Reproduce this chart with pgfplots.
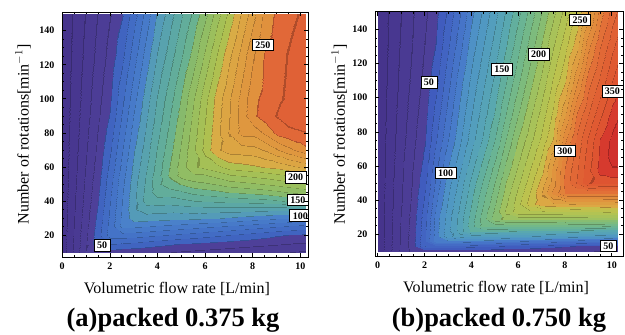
\documentclass[border=0pt]{standalone}
\usepackage{fontspec}
\setmainfont{Liberation Serif}
\usepackage{pgfplots}
\pgfplotsset{compat=1.18}
\pgfplotsset{
  myax/.style={
    scale only axis, axis on top,
    xtick={0,2,4,6,8,10}, ytick={20,40,60,80,100,120,140},
    minor x tick num=3, minor y tick num=3,
    major tick length=4pt, minor tick length=2.2pt,
    tick style={black, line width=0.6pt},
    axis line style={black, line width=0.8pt},
    tick label style={font=\fontsize{10}{12}\selectfont\bfseries},
    /pgf/number format/assume math mode=true,
    xticklabel style={yshift=-2pt},
    yticklabel style={xshift=-4pt},
    label style={font=\fontsize{16}{19}\selectfont},
  },
}
\tikzset{lbl/.style={draw=black, fill=white, line width=0.8pt, inner xsep=3pt, inner ysep=2.5pt, font=\fontsize{10}{12}\selectfont\bfseries}}
\begin{document}
\begin{tikzpicture}
\useasboundingbox (0pt,0pt) rectangle (625pt,335pt);
% ---------------- panel (a)
\begin{axis}[myax, at={(62pt,78pt)}, anchor=south west, width=246pt, height=245pt,
  xmin=-0.01, xmax=10.32, ymin=7.08, ymax=150.98,
  point meta min=0, point meta max=280,
  xlabel={Volumetric flow rate [L/min]},
  ylabel={Number of rotations[min$^{-1}$]},
  every axis x label/.style={at={(axis description cs:0.467,-0.148)}, anchor=base, font=\fontsize{16}{19}\selectfont},
  every axis y label/.style={at={(axis description cs:-0.136,0.5)}, rotate=90, anchor=base, font=\fontsize{16}{19}\selectfont},
  colormap={cmA}{rgb255(0)=(70,52,140)
  rgb255(9.55)=(56,43,112) rgb255(10.45)=(72,55,144)
  rgb255(19.55)=(58,45,115) rgb255(20.45)=(74,58,147)
  rgb255(29.55)=(59,48,117) rgb255(30.45)=(76,61,150)
  rgb255(39.55)=(61,50,119) rgb255(40.45)=(78,64,153)
  rgb255(49.55)=(50,78,150) rgb255(50.45)=(64,100,192)
  rgb255(59.55)=(51,84,153) rgb255(60.45)=(66,108,196)
  rgb255(69.55)=(53,90,155) rgb255(70.45)=(68,115,199)
  rgb255(79.55)=(55,95,157) rgb255(80.45)=(71,122,201)
  rgb255(89.55)=(58,101,158) rgb255(90.45)=(74,129,202)
  rgb255(99.55)=(66,121,144) rgb255(100.45)=(84,155,184)
  rgb255(109.55)=(69,126,136) rgb255(110.45)=(88,162,174)
  rgb255(119.55)=(72,131,129) rgb255(120.45)=(92,168,165)
  rgb255(129.55)=(76,135,121) rgb255(130.45)=(98,173,155)
  rgb255(139.55)=(82,139,113) rgb255(140.45)=(105,178,145)
  rgb255(149.55)=(105,145,84) rgb255(150.45)=(135,186,108)
  rgb255(159.55)=(113,147,78) rgb255(160.45)=(145,189,100)
  rgb255(169.55)=(121,149,73) rgb255(170.45)=(155,191,93)
  rgb255(179.55)=(129,150,67) rgb255(180.45)=(165,192,86)
  rgb255(189.55)=(137,150,62) rgb255(190.45)=(175,192,80)
  rgb255(199.55)=(169,134,55) rgb255(200.45)=(217,172,70)
  rgb255(209.55)=(172,129,52) rgb255(210.45)=(220,165,67)
  rgb255(219.55)=(173,123,51) rgb255(220.45)=(222,158,65)
  rgb255(229.55)=(174,118,49) rgb255(230.45)=(223,151,63)
  rgb255(239.55)=(175,113,48) rgb255(240.45)=(224,145,61)
  rgb255(249.55)=(176,81,44) rgb255(250.45)=(225,104,56)
  rgb255(259.55)=(175,76,42) rgb255(260.45)=(224,97,54)
  rgb255(269.55)=(174,70,41) rgb255(270.45)=(223,90,52)
  rgb255(280)=(223,90,52)},
]
\addplot[surf, shader=interp, colormap access=piecewise constant, mesh/cols=22, point meta=explicit]
table[row sep=\\, meta=z]{x y z\\
0 10 3.7\\ 0.5 10 22.2\\ 1 10 40.7\\ 1.5 10 45\\ 2 10 45\\ 2.5 10 44\\ 3 10 43\\ 3.5 10 42\\ 4 10 41\\ 4.5 10 40.6\\ 5 10 39\\ 5.5 10 38\\ 6 10 37\\ 6.5 10 36\\ 7 10 35\\ 7.5 10 34\\ 8 10 33\\ 8.5 10 32\\ 9 10 31\\ 9.5 10 30.6\\ 10 10 29\\ 10.2 10 29\\
0 15 3.6\\ 0.5 15 21.5\\ 1 15 39.5\\ 1.5 15 57.7\\ 2 15 60.6\\ 2.5 15 58.6\\ 3 15 57.1\\ 3.5 15 55\\ 4 15 52.9\\ 4.5 15 51.1\\ 5 15 49.4\\ 5.5 15 48.3\\ 6 15 47.2\\ 6.5 15 46.1\\ 7 15 45\\ 7.5 15 44\\ 8 15 42.9\\ 8.5 15 41.9\\ 9 15 40.8\\ 9.5 15 39.8\\ 10 15 38.7\\ 10.2 15 38.5\\
0 20 3.5\\ 0.5 20 20.9\\ 1 20 38.3\\ 1.5 20 56.2\\ 2 20 75.2\\ 2.5 20 75.9\\ 3 20 74.8\\ 3.5 20 73\\ 4 20 71.2\\ 4.5 20 69.5\\ 5 20 67.5\\ 5.5 20 65.8\\ 6 20 63.7\\ 6.5 20 61.9\\ 7 20 59.8\\ 7.5 20 57.9\\ 8 20 55.6\\ 8.5 20 53.6\\ 9 20 51.2\\ 9.5 20 49.6\\ 10 20 48.4\\ 10.2 20 48.1\\
0 25 3.4\\ 0.5 25 20.3\\ 1 25 37.1\\ 1.5 25 54.6\\ 2 25 73.9\\ 2.5 25 93.1\\ 3 25 92.6\\ 3.5 25 91\\ 4 25 89.4\\ 4.5 25 87.9\\ 5 25 86.2\\ 5.5 25 84.6\\ 6 25 82.8\\ 6.5 25 81.2\\ 7 25 79.3\\ 7.5 25 77.6\\ 8 25 75.4\\ 8.5 25 73.6\\ 9 25 71.5\\ 9.5 25 69.7\\ 10 25 67.5\\ 10.2 25 66.7\\
0 30 3.3\\ 0.5 30 19.7\\ 1 30 36.1\\ 1.5 30 52.9\\ 2 30 72.5\\ 2.5 30 92.2\\ 3 30 105.8\\ 3.5 30 105.1\\ 4 30 104.4\\ 4.5 30 103.6\\ 5 30 103.1\\ 5.5 30 102.4\\ 6 30 101.5\\ 6.5 30 100.8\\ 7 30 98.8\\ 7.5 30 97.2\\ 8 30 95.2\\ 8.5 30 93.6\\ 9 30 91.9\\ 9.5 30 90.8\\ 10 30 88.3\\ 10.2 30 87.5\\
0 35 3.2\\ 0.5 35 19.1\\ 1 35 35.1\\ 1.5 35 51.2\\ 2 35 71.1\\ 2.5 35 91\\ 3 35 109\\ 3.5 35 115.3\\ 4 35 114.7\\ 4.5 35 114.1\\ 5 35 114.9\\ 5.5 35 115.9\\ 6 35 116.2\\ 6.5 35 116\\ 7 35 116\\ 7.5 35 115.7\\ 8 35 115.1\\ 8.5 35 114.5\\ 9 35 114.4\\ 9.5 35 114.1\\ 10 35 113.8\\ 10.2 35 113.3\\
0 40 3.1\\ 0.5 40 18.6\\ 1 40 34.1\\ 1.5 40 49.6\\ 2 40 69.7\\ 2.5 40 89.9\\ 3 40 108.1\\ 3.5 40 124.2\\ 4 40 125.1\\ 4.5 40 124.7\\ 5 40 126.8\\ 5.5 40 129.5\\ 6 40 130.9\\ 6.5 40 131.8\\ 7 40 133\\ 7.5 40 133.9\\ 8 40 134.9\\ 8.5 40 135.9\\ 9 40 138.5\\ 9.5 40 141.3\\ 10 40 145\\ 10.2 40 146.7\\
0 45 3\\ 0.5 45 18.1\\ 1 45 33.2\\ 1.5 45 48.3\\ 2 45 68.2\\ 2.5 45 88.7\\ 3 45 107.1\\ 3.5 45 123\\ 4 45 135.5\\ 4.5 45 135.2\\ 5 45 138.6\\ 5.5 45 143\\ 6 45 145.6\\ 6.5 45 147.5\\ 7 45 150.6\\ 7.5 45 151.8\\ 8 45 153.6\\ 8.5 45 155.1\\ 9 45 157.8\\ 9.5 45 160.6\\ 10 45 163\\ 10.2 45 164.1\\
0 50 2.9\\ 0.5 50 17.6\\ 1 50 32.4\\ 1.5 50 47.1\\ 2 50 66.7\\ 2.5 50 87.5\\ 3 50 106.3\\ 3.5 50 121.9\\ 4 50 137.5\\ 4.5 50 145.8\\ 5 50 150.6\\ 5.5 50 155.9\\ 6 50 158.1\\ 6.5 50 160.9\\ 7 50 164.7\\ 7.5 50 166.5\\ 8 50 168.3\\ 8.5 50 170.6\\ 9 50 172.9\\ 9.5 50 175.6\\ 10 50 178.4\\ 10.2 50 179.4\\
0 55 2.9\\ 0.5 55 17.2\\ 1 55 31.5\\ 1.5 55 45.8\\ 2 55 64.6\\ 2.5 55 85.4\\ 3 55 104.6\\ 3.5 55 120.6\\ 4 55 135.7\\ 4.5 55 151.2\\ 5 55 164.3\\ 5.5 55 168.1\\ 6 55 169.4\\ 6.5 55 174\\ 7 55 179.4\\ 7.5 55 181.2\\ 8 55 183.1\\ 8.5 55 185\\ 9 55 188\\ 9.5 55 190.6\\ 10 55 193.8\\ 10.2 55 195.3\\
0 60 2.8\\ 0.5 60 16.7\\ 1 60 30.7\\ 1.5 60 44.6\\ 2 60 62.6\\ 2.5 60 83.3\\ 3 60 102.9\\ 3.5 60 118.4\\ 4 60 133.9\\ 4.5 60 149.4\\ 5 60 164.7\\ 5.5 60 178.5\\ 6 60 182.6\\ 6.5 60 187\\ 7 60 194.1\\ 7.5 60 195.9\\ 8 60 197.9\\ 8.5 60 200.6\\ 9 60 202.6\\ 9.5 60 206.1\\ 10 60 210.6\\ 10.2 60 212.1\\
0 70 2.6\\ 0.5 70 15.9\\ 1 70 29.1\\ 1.5 70 42.4\\ 2 70 58.7\\ 2.5 70 79.1\\ 3 70 99.4\\ 3.5 70 115\\ 4 70 130.6\\ 4.5 70 145.7\\ 5 70 161.5\\ 5.5 70 177.6\\ 6 70 193.6\\ 6.5 70 208.2\\ 7 70 214.3\\ 7.5 70 215\\ 8 70 215.9\\ 8.5 70 220.8\\ 9 70 228.9\\ 9.5 70 236.4\\ 10 70 243.3\\ 10.2 70 246.6\\
0 80 2.5\\ 0.5 80 15.1\\ 1 80 27.7\\ 1.5 80 40.6\\ 2 80 54.8\\ 2.5 80 75\\ 3 80 95.2\\ 3.5 80 111.6\\ 4 80 126.9\\ 4.5 80 142.1\\ 5 80 158.1\\ 5.5 80 174.8\\ 6 80 191.6\\ 6.5 80 206.9\\ 7 80 220.7\\ 7.5 80 232.5\\ 8 80 232.9\\ 8.5 80 241.7\\ 9 80 252.4\\ 9.5 80 256\\ 10 80 258.3\\ 10.2 80 259.2\\
0 90 2.4\\ 0.5 90 14.5\\ 1 90 26.5\\ 1.5 90 38.5\\ 2 90 51\\ 2.5 90 71\\ 3 90 91\\ 3.5 90 108.3\\ 4 90 123.4\\ 4.5 90 138.5\\ 5 90 154.2\\ 5.5 90 171.8\\ 6 90 189.4\\ 6.5 90 205.6\\ 7 90 219.4\\ 7.5 90 233.7\\ 8 90 247.8\\ 8.5 90 254.8\\ 9 90 260.6\\ 9.5 90 266.3\\ 10 90 268.8\\ 10.2 90 269.4\\
0 100 2.3\\ 0.5 100 13.8\\ 1 100 25.3\\ 1.5 100 36.9\\ 2 100 48.4\\ 2.5 100 67.1\\ 3 100 86.9\\ 3.5 100 105.1\\ 4 100 120.6\\ 4.5 100 135\\ 5 100 150.6\\ 5.5 100 168.5\\ 6 100 187\\ 6.5 100 204.3\\ 7 100 218.6\\ 7.5 100 232.9\\ 8 100 247.1\\ 8.5 100 253.4\\ 9 100 257.7\\ 9.5 100 262\\ 10 100 266.3\\ 10.2 100 268\\
0 125 2.1\\ 0.5 125 12.5\\ 1 125 22.9\\ 1.5 125 33.3\\ 2 125 43.8\\ 2.5 125 57.4\\ 3 125 75.9\\ 3.5 125 94.4\\ 4 125 110.6\\ 4.5 125 124.3\\ 5 125 138.6\\ 5.5 125 153.7\\ 6 125 172.2\\ 6.5 125 190.7\\ 7 125 207.8\\ 7.5 125 223.4\\ 8 125 239.1\\ 8.5 125 251.4\\ 9 125 256\\ 9.5 125 260.6\\ 10 125 265.2\\ 10.2 125 267\\
0 150 1.9\\ 0.5 150 11.3\\ 1 150 20.8\\ 1.5 150 30.6\\ 2 150 39.6\\ 2.5 150 49.1\\ 3 150 66\\ 3.5 150 83.7\\ 4 150 101.1\\ 4.5 150 114.7\\ 5 150 128.3\\ 5.5 150 141.8\\ 6 150 157.1\\ 6.5 150 175.6\\ 7 150 192.9\\ 7.5 150 210.6\\ 8 150 226.7\\ 8.5 150 243.3\\ 9 150 252.4\\ 9.5 150 256.4\\ 10 150 260.6\\ 10.2 150 262\\
};
\node[lbl] at (axis cs:8.43,131.6) {250};
\node[lbl] at (axis cs:9.8,53.8) {200};
\node[lbl] at (axis cs:9.9,40.6) {150};
\node[lbl] at (axis cs:10.0,31.3) {100};
\node[lbl] at (axis cs:1.67,14.1) {50};
\end{axis}
% ---------------- panel (b)
\begin{axis}[myax, at={(375pt,78.3pt)}, anchor=south west, width=248pt, height=244.8pt,
  xmin=-0.115, xmax=10.48, ymin=6.9, ymax=150.2,
  point meta min=0, point meta max=380,
  xlabel={Volumetric flow rate [L/min]},
  ylabel={Number of rotations[min$^{-1}$]},
  every axis x label/.style={at={(axis description cs:0.488,-0.148)}, anchor=base, font=\fontsize{16}{19}\selectfont},
  every axis y label/.style={at={(axis description cs:-0.121,0.5)}, rotate=90, anchor=base, font=\fontsize{16}{19}\selectfont},
  colormap={cmB}{rgb255(0)=(70,52,140)
  rgb255(9.55)=(56,43,112) rgb255(10.45)=(72,55,144)
  rgb255(19.55)=(58,45,115) rgb255(20.45)=(74,58,147)
  rgb255(29.55)=(59,48,117) rgb255(30.45)=(76,61,150)
  rgb255(39.55)=(61,50,119) rgb255(40.45)=(78,64,153)
  rgb255(49.55)=(50,72,148) rgb255(50.45)=(64,92,190)
  rgb255(59.55)=(51,78,151) rgb255(60.45)=(66,100,194)
  rgb255(69.55)=(53,84,154) rgb255(70.45)=(68,108,197)
  rgb255(79.55)=(55,90,156) rgb255(80.45)=(70,116,200)
  rgb255(89.55)=(56,97,158) rgb255(90.45)=(72,124,202)
  rgb255(99.55)=(61,113,154) rgb255(100.45)=(78,145,198)
  rgb255(109.55)=(62,119,151) rgb255(110.45)=(80,152,194)
  rgb255(119.55)=(65,123,147) rgb255(120.45)=(83,158,189)
  rgb255(129.55)=(67,127,143) rgb255(130.45)=(86,163,183)
  rgb255(139.55)=(69,131,137) rgb255(140.45)=(89,168,176)
  rgb255(149.55)=(76,137,123) rgb255(150.45)=(98,175,158)
  rgb255(159.55)=(83,140,115) rgb255(160.45)=(106,180,148)
  rgb255(169.55)=(90,144,107) rgb255(170.45)=(115,184,137)
  rgb255(179.55)=(98,146,98) rgb255(180.45)=(125,187,125)
  rgb255(189.55)=(105,147,89) rgb255(190.45)=(135,189,114)
  rgb255(199.55)=(123,151,75) rgb255(200.45)=(158,193,96)
  rgb255(209.55)=(131,151,69) rgb255(210.45)=(168,194,89)
  rgb255(219.55)=(139,152,65) rgb255(220.45)=(178,195,83)
  rgb255(229.55)=(147,151,61) rgb255(230.45)=(188,194,78)
  rgb255(239.55)=(154,148,58) rgb255(240.45)=(198,190,74)
  rgb255(249.55)=(172,131,53) rgb255(250.45)=(220,168,68)
  rgb255(259.55)=(173,123,51) rgb255(260.45)=(222,158,65)
  rgb255(269.55)=(175,115,48) rgb255(270.45)=(224,148,62)
  rgb255(279.55)=(176,108,47) rgb255(280.45)=(225,139,60)
  rgb255(289.55)=(176,101,45) rgb255(290.45)=(226,130,58)
  rgb255(299.55)=(176,87,44) rgb255(300.45)=(226,112,56)
  rgb255(309.55)=(176,81,42) rgb255(310.45)=(225,104,54)
  rgb255(319.55)=(175,76,41) rgb255(320.45)=(224,97,52)
  rgb255(329.55)=(174,70,39) rgb255(330.45)=(223,90,50)
  rgb255(339.55)=(173,66,38) rgb255(340.45)=(222,84,49)
  rgb255(349.55)=(167,45,36) rgb255(350.45)=(214,58,46)
  rgb255(359.55)=(162,37,34) rgb255(360.45)=(208,48,44)
  rgb255(369.55)=(158,31,32) rgb255(370.45)=(202,40,41)
  rgb255(380)=(202,40,41)},
]
\addplot[surf, shader=interp, colormap access=piecewise constant, mesh/cols=21, point meta=explicit]
table[row sep=\\, meta=z]{x y z\\
0 10 2.9\\ 1 10 32\\ 1.5 10 44.3\\ 2 10 44\\ 2.5 10 43.8\\ 3 10 43.5\\ 3.5 10 43.3\\ 4 10 43\\ 4.5 10 42.8\\ 5 10 42.5\\ 5.5 10 42.3\\ 6 10 42\\ 6.5 10 41.8\\ 7 10 41.5\\ 7.5 10 41.3\\ 8 10 41\\ 8.5 10 40.8\\ 9 10 40.6\\ 9.5 10 40.3\\ 10 10 39.4\\ 10.25 10 39.3\\
0 13 2.9\\ 1 13 31.8\\ 1.5 13 46.2\\ 2 13 69.6\\ 2.5 13 68.2\\ 3 13 66.8\\ 3.5 13 65.4\\ 4 13 63.9\\ 4.5 13 62.4\\ 5 13 60.9\\ 5.5 13 59.3\\ 6 13 57.7\\ 6.5 13 56.1\\ 7 13 54.5\\ 7.5 13 52.8\\ 8 13 51.1\\ 8.5 13 49.4\\ 9 13 49.4\\ 9.5 13 49\\ 10 13 48.6\\ 10.25 13 48.4\\
0 16 2.9\\ 1 16 31.5\\ 1.5 16 45.9\\ 2 16 69.3\\ 2.5 16 96.5\\ 3 16 98.3\\ 3.5 16 97.1\\ 4 16 95.9\\ 4.5 16 94.7\\ 5 16 93.5\\ 5.5 16 92.2\\ 6 16 90.6\\ 6.5 16 89.4\\ 7 16 88.3\\ 7.5 16 86.9\\ 8 16 85.6\\ 8.5 16 84.1\\ 9 16 82.7\\ 9.5 16 81.3\\ 10 16 79.4\\ 10.25 16 79.2\\
0 19 2.8\\ 1 19 31.3\\ 1.5 19 45.6\\ 2 19 68.8\\ 2.5 19 96\\ 3 19 116.8\\ 3.5 19 125.6\\ 4 19 124.7\\ 4.5 19 123.8\\ 5 19 122.9\\ 5.5 19 121.9\\ 6 19 121\\ 6.5 19 120.6\\ 7 19 119.4\\ 7.5 19 118\\ 8 19 117.1\\ 8.5 19 116\\ 9 19 115\\ 9.5 19 114\\ 10 19 113\\ 10.25 19 112.6\\
0 22 2.8\\ 1 22 31.1\\ 1.5 22 45.2\\ 2 22 68.2\\ 2.5 22 95.6\\ 3 22 116.4\\ 3.5 22 135.9\\ 4 22 152.3\\ 4.5 22 151.7\\ 5 22 151.1\\ 5.5 22 150.7\\ 6 22 149.4\\ 6.5 22 148.9\\ 7 22 148.2\\ 7.5 22 147.3\\ 8 22 146.5\\ 8.5 22 145.6\\ 9 22 144.8\\ 9.5 22 143.8\\ 10 22 143\\ 10.25 22 142.7\\
0 25 2.8\\ 1 25 30.9\\ 1.5 25 44.9\\ 2 25 67.6\\ 2.5 25 95.2\\ 3 25 116\\ 3.5 25 135.4\\ 4 25 155.3\\ 4.5 25 174\\ 5 25 173.7\\ 5.5 25 173.3\\ 6 25 173\\ 6.5 25 172.6\\ 7 25 172.3\\ 7.5 25 171.9\\ 8 25 171.5\\ 8.5 25 171.1\\ 9 25 170.7\\ 9.5 25 170.6\\ 10 25 169.4\\ 10.25 25 169.3\\
0 29 2.8\\ 1 29 30.6\\ 1.5 29 44.5\\ 2 29 66.9\\ 2.5 29 94.6\\ 3 29 115.5\\ 3.5 29 134.8\\ 4 29 154.4\\ 4.5 29 175.3\\ 5 29 196.1\\ 5.5 29 202.9\\ 6 29 202.9\\ 6.5 29 202.9\\ 7 29 202.9\\ 7.5 29 203\\ 8 29 203.1\\ 8.5 29 203.1\\ 9 29 203.2\\ 9.5 29 203.3\\ 10 29 203.3\\ 10.25 29 203.4\\
0 33 2.7\\ 1 33 30.2\\ 1.5 33 43.9\\ 2 33 65.2\\ 2.5 33 92.5\\ 3 33 113.9\\ 3.5 33 133\\ 4 33 152.3\\ 4.5 33 172.8\\ 5 33 193.4\\ 5.5 33 212.5\\ 6 33 226.5\\ 6.5 33 226.5\\ 7 33 226.5\\ 7.5 33 227\\ 8 33 227.5\\ 8.5 33 228.1\\ 9 33 228.7\\ 9.5 33 229.3\\ 10 33 230.6\\ 10.25 33 230.9\\
0 38 2.7\\ 1 38 29.4\\ 1.5 38 43.1\\ 2 38 62.9\\ 2.5 38 89.4\\ 3 38 111.4\\ 3.5 38 130.6\\ 4 38 149.2\\ 4.5 38 169.4\\ 5 38 189.5\\ 5.5 38 208.8\\ 6 38 227\\ 6.5 38 245.3\\ 7 38 257.1\\ 7.5 38 258.1\\ 8 38 259.1\\ 8.5 38 260.6\\ 9 38 261.2\\ 9.5 38 261.7\\ 10 38 262.5\\ 10.25 38 262.8\\
0 44 2.6\\ 1 44 29\\ 1.5 44 42.2\\ 2 44 60.6\\ 2.5 44 85.9\\ 3 44 108.4\\ 3.5 44 127.2\\ 4 44 145.9\\ 4.5 44 165.4\\ 5 44 185\\ 5.5 44 204.3\\ 6 44 222.4\\ 6.5 44 240.6\\ 7 44 260.8\\ 7.5 44 283.7\\ 8 44 300.6\\ 8.5 44 300.6\\ 9 44 300.6\\ 9.5 44 300.6\\ 10 44 300.6\\ 10.25 44 300.6\\
0 50 2.6\\ 1 50 28.4\\ 1.5 50 41.2\\ 2 50 57.9\\ 2.5 50 82.7\\ 3 50 105.6\\ 3.5 50 124.1\\ 4 50 142.6\\ 4.5 50 161.5\\ 5 50 180.8\\ 5.5 50 200.6\\ 6 50 217.9\\ 6.5 50 235.7\\ 7 50 255\\ 7.5 50 275\\ 8 50 303.6\\ 8.5 50 321.4\\ 9 50 339.3\\ 9.5 50 342.9\\ 10 50 342.9\\ 10.25 50 342.9\\
0 57 2.5\\ 1 57 27.6\\ 1.5 57 40.6\\ 2 57 55.1\\ 2.5 57 78.5\\ 3 57 101.4\\ 3.5 57 119.3\\ 4 57 137.3\\ 4.5 57 155.7\\ 5 57 175.1\\ 5.5 57 194.6\\ 6 57 212.6\\ 6.5 57 230.6\\ 7 57 247.6\\ 7.5 57 273.9\\ 8 57 301.1\\ 8.5 57 319.1\\ 9 57 337.2\\ 9.5 57 353.6\\ 10 57 357.9\\ 10.25 57 357.9\\
0 65 2.4\\ 1 65 26.9\\ 1.5 65 39.1\\ 2 65 52.3\\ 2.5 65 74.2\\ 3 65 96.1\\ 3.5 65 114.2\\ 4 65 131.6\\ 4.5 65 149.4\\ 5 65 168.5\\ 5.5 65 188.2\\ 6 65 206.8\\ 6.5 65 224\\ 7 65 241.1\\ 7.5 65 265.2\\ 8 65 296.8\\ 8.5 65 316.4\\ 9 65 334.7\\ 9.5 65 352\\ 10 65 364.5\\ 10.25 65 368.4\\
0 75 2.4\\ 1 75 25.9\\ 1.5 75 37.7\\ 2 75 49.4\\ 2.5 75 69.4\\ 3 75 89.8\\ 3.5 75 108.3\\ 4 75 125\\ 4.5 75 141.7\\ 5 75 160.6\\ 5.5 75 180.6\\ 6 75 200.6\\ 6.5 75 216.7\\ 7 75 233.3\\ 7.5 75 250.6\\ 8 75 288.5\\ 8.5 75 313\\ 9 75 331.5\\ 9.5 75 350.6\\ 10 75 362.5\\ 10.25 75 367.5\\
0 90 2.2\\ 1 90 24.4\\ 1.5 90 35.5\\ 2 90 46.6\\ 2.5 90 63.9\\ 3 90 84\\ 3.5 90 103.2\\ 4 90 119.2\\ 4.5 90 135.3\\ 5 90 151.5\\ 5.5 90 170.7\\ 6 90 189.8\\ 6.5 90 208\\ 7 90 225.1\\ 7.5 90 242.2\\ 8 90 268.9\\ 8.5 90 301.8\\ 9 90 319.7\\ 9.5 90 337.7\\ 10 90 353.9\\ 10.25 90 358.9\\
0 110 2.1\\ 1 110 22.6\\ 1.5 110 32.9\\ 2 110 43.2\\ 2.5 110 56.7\\ 3 110 76.4\\ 3.5 110 96.1\\ 4 110 112.2\\ 4.5 110 127.4\\ 5 110 142.7\\ 5.5 110 159.4\\ 6 110 177.5\\ 6.5 110 195.7\\ 7 110 213.5\\ 7.5 110 231.2\\ 8 110 248.9\\ 8.5 110 278.7\\ 9 110 305.2\\ 9.5 110 322.4\\ 10 110 339.7\\ 10.25 110 346.6\\
0 130 1.9\\ 1 130 21.2\\ 1.5 130 30.8\\ 2 130 40.6\\ 2.5 130 50.6\\ 3 130 68.6\\ 3.5 130 87.1\\ 4 130 104.5\\ 4.5 130 119.5\\ 5 130 134.4\\ 5.5 130 149.4\\ 6 130 166.7\\ 6.5 130 184\\ 7 130 201.4\\ 7.5 130 218.9\\ 8 130 236.4\\ 8.5 130 256.6\\ 9 130 286.5\\ 9.5 130 309.4\\ 10 130 327.2\\ 10.25 130 334.2\\
0 150 1.8\\ 1 150 19.9\\ 1.5 150 29.4\\ 2 150 38\\ 2.5 150 47.1\\ 3 150 61.8\\ 3.5 150 79.2\\ 4 150 96.5\\ 4.5 150 111.8\\ 5 150 126.5\\ 5.5 150 141.2\\ 6 150 156.7\\ 6.5 150 173.3\\ 7 150 190.6\\ 7.5 150 206.9\\ 8 150 224.1\\ 8.5 150 241.4\\ 9 150 264.7\\ 9.5 150 294.1\\ 10 150 314.3\\ 10.25 150 321.4\\
};
\node[lbl] at (axis cs:2.19,109) {50};
\node[lbl] at (axis cs:2.9,56) {100};
\node[lbl] at (axis cs:5.3,116.4) {150};
\node[lbl] at (axis cs:6.87,125.4) {200};
\node[lbl] at (axis cs:8.65,145.5) {250};
\node[lbl] at (axis cs:8.0,68.9) {300};
\node[lbl] at (axis cs:10.03,103.5) {350};
\node[lbl] at (axis cs:9.86,13.2) {50};
\end{axis}
\node[anchor=base, font=\fontsize{26.5}{31}\selectfont\bfseries] at (173pt,8.5pt) {(a)packed 0.375 kg};
\node[anchor=base, font=\fontsize{26.5}{31}\selectfont\bfseries] at (499pt,8.5pt) {(b)packed 0.750 kg};
\end{tikzpicture}
\end{document}
